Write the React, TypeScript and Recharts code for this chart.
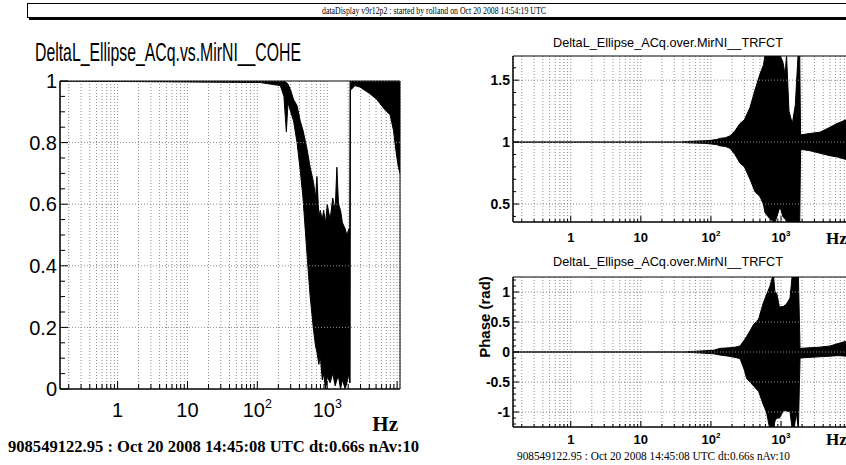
import React from "react";
import {
  ComposedChart,
  Area,
  XAxis,
  YAxis,
  CartesianGrid,
  ReferenceLine,
  ReferenceArea,
} from "recharts";

const SANS = "'Liberation Sans', Arial, Helvetica, sans-serif";
const SERIF = "'Liberation Serif', 'Times New Roman', serif";

// frequency axis (log), shared by the three pads
const freqDomain = [0.15, 11000];
const freqTicks = [
  0.2, 0.3, 0.4, 0.5, 0.6, 0.7, 0.8, 0.9,
  1, 2, 3, 4, 5, 6, 7, 8, 9,
  10, 20, 30, 40, 50, 60, 70, 80, 90,
  100, 200, 300, 400, 500, 600, 700, 800, 900,
  1000, 2000, 3000, 4000, 5000, 6000, 7000, 8000, 9000, 10000,
];
const freqMajor = [1, 10, 100, 1000];

// coherence pad (left)
const cohFreq = [0.15, 110, 213, 240, 260, 275, 300, 330, 370, 411, 450, 513, 570, 638, 680, 712, 760, 794, 850, 887, 950, 1000, 1100, 1200, 1300, 1374, 1450, 1550, 1650, 1808, 1910, 2050, 2100, 2125, 2150, 2500, 2960, 4000, 5130, 6500, 7943, 8870, 9800, 10440, 11000];
const cohLow = [1, 0.995, 0.985, 0.95, 0.835, 0.93, 0.9, 0.87, 0.8, 0.71, 0.62, 0.44, 0.3, 0.19, 0.14, 0.12, 0.08, 0.11, 0.03, 0.05, 0, 0.04, 0.02, 0.05, 0.01, 0.03, 0.04, 0, 0.03, 0, 0.02, 0.05, 0.02, 0.02, 0.97, 0.985, 0.98, 0.96, 0.94, 0.91, 0.89, 0.84, 0.76, 0.72, 0.7];
const cohHigh = [1, 1, 1, 1, 0.995, 0.99, 0.97, 0.94, 0.92, 0.87, 0.84, 0.78, 0.72, 0.67, 0.62, 0.69, 0.56, 0.58, 0.55, 0.58, 0.54, 0.6, 0.55, 0.62, 0.58, 0.72, 0.6, 0.58, 0.54, 0.52, 0.5, 0.52, 0.5, 1, 1, 1, 1, 1, 1, 1, 1, 1, 1, 1, 1];
const cohTicks = [0, 0.05, 0.1, 0.15, 0.2, 0.25, 0.3, 0.35, 0.4, 0.45, 0.5, 0.55, 0.6, 0.65, 0.7, 0.75, 0.8, 0.85, 0.9, 0.95, 1];
const cohMajor = [0, 0.2, 0.4, 0.6, 0.8, 1];

// transfer function magnitude (top right)
const magFreq = [0.15, 38, 45, 60, 80, 100, 120, 134, 160, 187, 220, 260, 300, 361, 425, 501, 560, 591, 696, 821, 968, 1060, 1141, 1200, 1300, 1450, 1600, 1750, 1850, 1900, 2000, 2600, 3600, 5000, 6310, 8483, 11000];
const magLow = [1, 1, 0.995, 0.992, 0.99, 0.985, 0.98, 0.97, 0.965, 0.95, 0.9, 0.83, 0.8, 0.7, 0.6, 0.56, 0.5, 0.43, 0.38, 0.35, 0.48, 0.4, 0.38, 0.36, 0.36, 0.36, 0.36, 0.35, 0.35, 0.93, 0.94, 0.93, 0.91, 0.89, 0.88, 0.86, 0.85];
const magHigh = [1, 1, 1.005, 1.008, 1.01, 1.015, 1.02, 1.03, 1.035, 1.05, 1.09, 1.15, 1.18, 1.28, 1.42, 1.55, 1.62, 1.7, 1.7, 1.7, 1.7, 1.65, 1.55, 1.7, 1.25, 1.15, 1.3, 1.7, 1.7, 1.06, 1.06, 1.07, 1.08, 1.12, 1.15, 1.18, 1.2];
const magTicks = [0.4, 0.5, 0.6, 0.7, 0.8, 0.9, 1, 1.1, 1.2, 1.3, 1.4, 1.5, 1.6];
const magMajor = [0.5, 1, 1.5];

// transfer function phase (bottom right)
const phFreq = [0.15, 40, 55, 80, 110, 134, 180, 220, 260, 300, 323, 360, 402, 480, 559, 620, 696, 777, 820, 867, 950, 1079, 1200, 1345, 1450, 1534, 1650, 1769, 1868, 2500, 3500, 5000, 6500, 8500, 11000];
const phLow = [0, 0, -0.01, -0.02, -0.03, -0.05, -0.07, -0.09, -0.11, -0.3, -0.44, -0.5, -0.56, -0.66, -0.88, -1.0, -1.3, -1.3, -1.15, -1.1, -1.1, -0.98, -0.98, -1.0, -1.3, -1.3, -1.0, -1.3, -0.1, -0.09, -0.08, -0.07, -0.06, -0.07, -0.05];
const phHigh = [0, 0, 0.01, 0.02, 0.03, 0.06, 0.07, 0.08, 0.1, 0.2, 0.26, 0.35, 0.45, 0.55, 0.82, 0.95, 1.1, 1.3, 1.0, 0.98, 0.75, 0.76, 0.8, 0.9, 1.3, 1.3, 1.3, 1.3, 0.06, 0.07, 0.08, 0.1, 0.14, 0.18, 0.2];
const phTicks = [-1.2, -1.1, -1, -0.9, -0.8, -0.7, -0.6, -0.5, -0.4, -0.3, -0.2, -0.1, 0, 0.1, 0.2, 0.3, 0.4, 0.5, 0.6, 0.7, 0.8, 0.9, 1, 1.1, 1.2];
const phMajor = [-1, -0.5, 0, 0.5, 1];

function toRows(freq: number[], lo: number[], hi: number[]) {
  return freq.map((f, i) => ({ f, band: [lo[i], hi[i]] }));
}

type PadProps = {
  left: number;
  top: number;
  width: number;
  height: number;
  marginTop: number;
  marginRight: number;
  yAxisWidth: number;
  xAxisHeight: number;
  labelDy: number;
  yDomain: number[];
  yTicks: number[];
  yMajor: number[];
  rows: { f: number; band: number[] }[];
  big: boolean;
};

function Pad(p: PadProps) {
  const fs = p.big ? 20 : 13;
  const yfs = p.big ? 20 : 14;
  const weight = p.big ? "normal" : "bold";
  const majLen = p.big ? 8 : 6;
  const minLen = p.big ? 5 : 3;

  const xTick = (t: any) => {
    const v = t.payload.value;
    const major = freqMajor.includes(v);
    const exp = Math.round(Math.log10(v));
    return (
      <g>
        <line x1={t.x} x2={t.x} y1={t.y} y2={t.y - (major || v === 10000 ? majLen : minLen)} stroke="#000" />
        {major && (
          <text x={t.x} y={t.y + p.labelDy} textAnchor="middle" fontSize={fs} fontFamily={SANS} fontWeight={weight} fill="#000">
            {exp < 2 ? String(v) : (
              <>
                10
                <tspan dy={-fs * 0.45} fontSize={fs * 0.62}>{exp}</tspan>
              </>
            )}
          </text>
        )}
      </g>
    );
  };

  const yTick = (t: any) => {
    const v = t.payload.value;
    const major = p.yMajor.includes(v);
    return (
      <g>
        <line x1={t.x} x2={t.x + (major ? majLen : minLen)} y1={t.y} y2={t.y} stroke="#000" />
        {major && (
          <text x={t.x - 3} y={t.y} dy="0.36em" textAnchor="end" fontSize={yfs} fontFamily={SANS} fontWeight={weight} fill="#000">
            {String(v)}
          </text>
        )}
      </g>
    );
  };

  return (
    <div style={{ position: "absolute", left: p.left, top: p.top }}>
      <ComposedChart
        width={p.width}
        height={p.height}
        data={p.rows}
        margin={{ top: p.marginTop, right: p.marginRight, bottom: 0, left: 0 }}
      >
        <CartesianGrid horizontal={false} stroke="#8c8c8c" strokeDasharray="1 2" />
        {p.yMajor.map((v) => (
          <ReferenceLine key={v} y={v} stroke="#8c8c8c" strokeDasharray="1 2" />
        ))}
        <XAxis
          dataKey="f"
          type="number"
          scale="log"
          domain={freqDomain}
          ticks={freqTicks}
          allowDataOverflow
          interval={0}
          height={p.xAxisHeight}
          tickSize={0}
          tickMargin={0}
          tickLine={false}
          axisLine={{ stroke: "#000" }}
          tick={xTick}
        />
        <YAxis
          type="number"
          domain={p.yDomain}
          ticks={p.yTicks}
          allowDataOverflow
          interval={0}
          width={p.yAxisWidth}
          tickSize={0}
          tickMargin={0}
          tickLine={false}
          axisLine={{ stroke: "#000" }}
          tick={yTick}
        />
        <Area
          type="linear"
          dataKey="band"
          stroke="#000"
          strokeWidth={1}
          fill="#000"
          fillOpacity={1}
          dot={false}
          activeDot={false}
          isAnimationActive={false}
        />
        <ReferenceArea
          x1={freqDomain[0]}
          x2={freqDomain[1]}
          y1={p.yDomain[0]}
          y2={p.yDomain[1]}
          fill="none"
          stroke="#000"
          strokeWidth={1}
          ifOverflow="visible"
        />
      </ComposedChart>
    </div>
  );
}

export default function App() {
  return (
    <div
      style={{
        position: "absolute",
        left: 0,
        top: 0,
        width: 846,
        height: 465,
        overflow: "hidden",
        background: "#fff",
      }}
    >
      <Pad
        left={0}
        top={0}
        width={420}
        height={465}
        marginTop={81}
        marginRight={20}
        yAxisWidth={60}
        xAxisHeight={76}
        labelDy={28}
        yDomain={[0, 1]}
        yTicks={cohTicks}
        yMajor={cohMajor}
        rows={toRows(cohFreq, cohLow, cohHigh)}
        big
      />
      <Pad
        left={420}
        top={0}
        width={441}
        height={250}
        marginTop={56}
        marginRight={7}
        yAxisWidth={93}
        xAxisHeight={28}
        labelDy={20}
        yDomain={[0.355, 1.695]}
        yTicks={magTicks}
        yMajor={magMajor}
        rows={toRows(magFreq, magLow, magHigh)}
        big={false}
      />
      <Pad
        left={420}
        top={250}
        width={441}
        height={215}
        marginTop={27}
        marginRight={7}
        yAxisWidth={93}
        xAxisHeight={38}
        labelDy={17}
        yDomain={[-1.25, 1.25]}
        yTicks={phTicks}
        yMajor={phMajor}
        rows={toRows(phFreq, phLow, phHigh)}
        big={false}
      />

      <svg
        width={846}
        height={465}
        style={{ position: "absolute", left: 0, top: 0, pointerEvents: "none" }}
      >
        {/* banner */}
        <rect x={29} y={6} width={830} height={14} fill="#000" />
        <rect x={27.5} y={3.5} width={830} height={14} fill="#fff" stroke="#000" />
        <text x={434} y={14} textAnchor="middle" fontSize={10} fontFamily={SERIF} fill="#000" textLength={224} lengthAdjust="spacingAndGlyphs">
          dataDisplay v9r12p2 : started by rolland on Oct 20 2008 14:54:19 UTC
        </text>

        {/* left pad */}
        <text x={35} y={61} fontSize={25} fontFamily={SANS} fill="#000" textLength={266} lengthAdjust="spacingAndGlyphs">
          DeltaL_Ellipse_ACq.vs.MirNI__COHE
        </text>
        <text x={398} y={431} textAnchor="end" fontSize={21} fontWeight="bold" fontFamily={SERIF} fill="#000">
          Hz
        </text>
        <text x={8} y={452} fontSize={16} fontWeight="bold" fontFamily={SERIF} fill="#000" textLength={411} lengthAdjust="spacingAndGlyphs">
          908549122.95 : Oct 20 2008 14:45:08 UTC dt:0.66s nAv:10
        </text>

        {/* right pads */}
        <text x={553} y={47} fontSize={13} fontFamily={SANS} fill="#000" textLength={230} lengthAdjust="spacingAndGlyphs">
          DeltaL_Ellipse_ACq.over.MirNI__TRFCT
        </text>
        <text x={826} y={244} fontSize={17} fontWeight="bold" fontFamily={SERIF} fill="#000">
          Hz
        </text>
        <text x={553} y={266} fontSize={13} fontFamily={SANS} fill="#000" textLength={230} lengthAdjust="spacingAndGlyphs">
          DeltaL_Ellipse_ACq.over.MirNI__TRFCT
        </text>
        <text
          x={0}
          y={0}
          transform="translate(490 317) rotate(-90)"
          textAnchor="middle"
          fontSize={15}
          fontWeight="bold"
          fontFamily={SANS}
          fill="#000"
        >
          Phase (rad)
        </text>
        <text x={826} y={445} fontSize={17} fontWeight="bold" fontFamily={SERIF} fill="#000">
          Hz
        </text>
        <text x={517} y={460} fontSize={11.5} fontFamily={SERIF} fill="#000" textLength={273} lengthAdjust="spacingAndGlyphs">
          908549122.95 : Oct 20 2008 14:45:08 UTC dt:0.66s nAv:10
        </text>
      </svg>
    </div>
  );
}
